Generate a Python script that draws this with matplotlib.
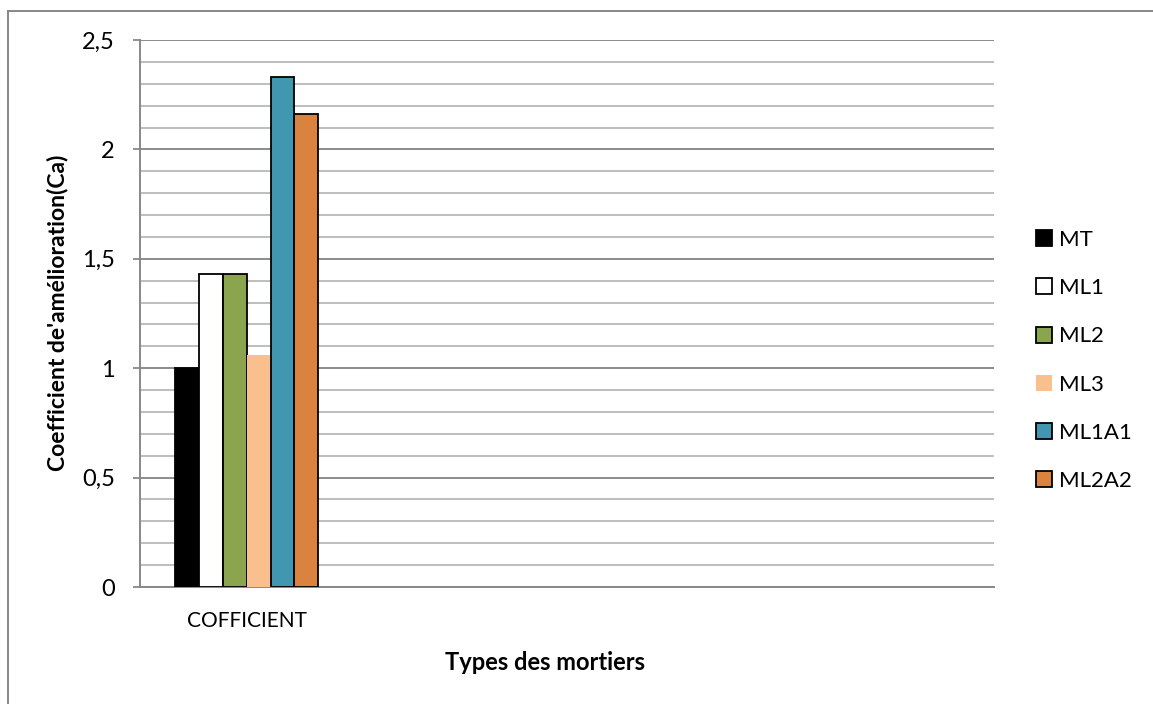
import numpy as np
import matplotlib
matplotlib.use('Agg')
import matplotlib.pyplot as plt
from matplotlib.lines import Line2D
from matplotlib.ticker import MultipleLocator, FuncFormatter

# mortar types and their improvement coefficient
categories = ['COFFICIENT']
series = ['MT', 'ML1', 'ML2', 'ML3', 'ML1A1', 'ML2A2']
values = [1.0, 1.43, 1.43, 1.06, 2.33, 2.16]
colors = ['#000000', '#FFFFFF', '#8BA54E', '#F9C08E', '#4097AF', '#DA833E']
edges = ['#000000', '#000000', '#000000', 'none', '#000000', '#000000']

plt.rcParams['font.family'] = ['Lato', 'DejaVu Sans']

W, H = 1153, 704
fig = plt.figure(figsize=(W / 100, H / 100), dpi=100)
ax = fig.add_axes([140 / W, 1 - 587 / H, (993.7 - 140) / W, (587 - 40) / H])

# bars grouped around category 0, x axis spans 4 category slots
n_slots = 4
bar_w = 0.1115
for i, (name, v) in enumerate(zip(series, values)):
    x = (i - (len(series) - 1) / 2) * bar_w
    ax.bar(x, v, width=bar_w, color=colors[i], edgecolor=edges[i],
           linewidth=1.3, label=name, zorder=3)

ax.set_xlim(-0.5, n_slots - 0.5)
ax.set_ylim(0, 2.5)
ax.set_xticks(range(len(categories)))
ax.set_xticklabels(categories, fontsize=15)
ax.tick_params(axis='x', length=0, pad=17)

ax.yaxis.set_major_locator(MultipleLocator(0.5))
ax.yaxis.set_minor_locator(MultipleLocator(0.1))
ax.yaxis.set_major_formatter(FuncFormatter(lambda v, p: ('%g' % v).replace('.', ',')))
ax.tick_params(axis='y', which='major', length=5, width=1.3, color='#888888',
               labelsize=17, pad=13)
ax.tick_params(axis='y', which='minor', length=0)

ax.grid(axis='y', which='major', color='#8C8C8C', linewidth=1.4, zorder=0)
ax.grid(axis='y', which='minor', color='#BEBEBE', linewidth=1.4, zorder=0)
for s in ['top', 'right']:
    ax.spines[s].set_visible(False)
for s in ['left', 'bottom']:
    ax.spines[s].set_color('#888888')
    ax.spines[s].set_linewidth(1.4)

fig.text(545 / W, 1 - 663 / H, 'Types des mortiers', fontsize=17,
         fontweight='bold', ha='center', va='center')
fig.text(57 / W, 1 - 313 / H, "Coefficient de'amélioration(Ca)", fontsize=16.5,
         fontweight='bold', ha='center', va='center', rotation=90)

fig.legend(loc='center left', bbox_to_anchor=(1036 / W, 1 - 360.5 / H),
           frameon=False, fontsize=16, handlelength=0.72, handleheight=0.72,
           handletextpad=0.3, labelspacing=1.27, borderpad=0, borderaxespad=0)

# chart outline
fig.add_artist(Line2D([8 / W, 8 / W], [0, 1 - 11 / H], color='#888888', lw=1.4))
fig.add_artist(Line2D([8 / W, 1], [1 - 11 / H, 1 - 11 / H], color='#888888', lw=1.4))

fig.savefig('out.png', dpi=100)
